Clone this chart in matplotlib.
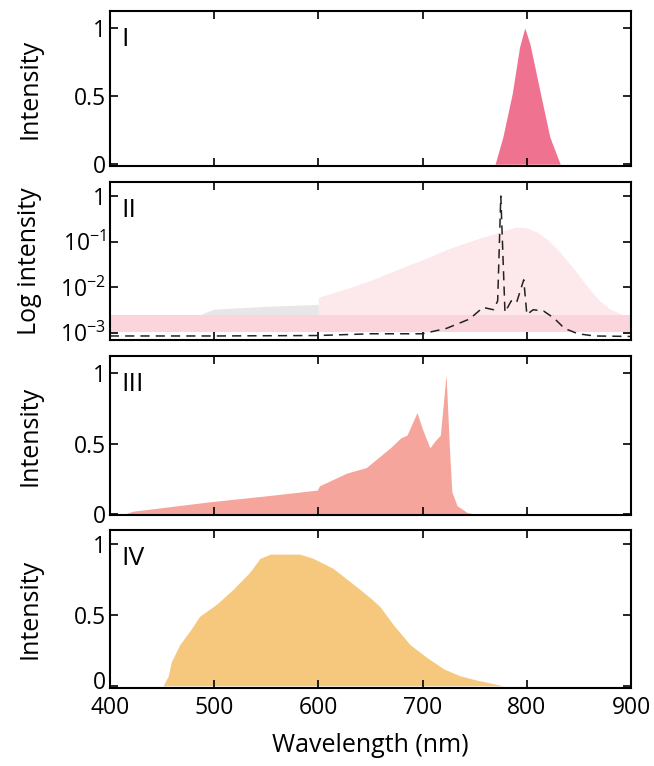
import matplotlib
matplotlib.use("Agg")
import matplotlib.pyplot as plt
import matplotlib.transforms as mtransforms
from matplotlib.ticker import FixedLocator, FixedFormatter
import numpy as np

plt.rcParams['font.family'] = ['Open Sans', 'DejaVu Sans']
plt.rcParams['mathtext.fontset'] = 'custom'
plt.rcParams['mathtext.rm'] = 'Open Sans'
plt.rcParams['mathtext.it'] = 'Open Sans'

# Panel I: narrow emission band near 800 nm
wl_1 = [769.5, 777, 786, 793, 798, 803, 813, 822, 832]
int_1 = [0.0, 0.2, 0.52, 0.86, 1.0, 0.88, 0.52, 0.2, 0.0]

# Panel II: log-scale spectra
wl_band = [400, 900]
band_low = [1.05e-3, 1.05e-3]
band_high = [2.5e-3, 2.5e-3]

wl_gray = [488, 500, 550, 600]
gray_high = [2.6e-3, 3.3e-3, 3.8e-3, 4.2e-3]

wl_hump = [600, 625, 650, 675, 700, 725, 750, 765, 780, 790, 800, 810, 820,
           830, 840, 850, 860, 870, 880, 890]
hump_high = [6.0e-3, 9.0e-3, 1.4e-2, 2.4e-2, 4.0e-2, 7.0e-2, 0.11, 0.14,
             0.18, 0.21, 0.2, 0.16, 0.11, 6.5e-2, 3.5e-2, 1.8e-2, 9.0e-3,
             5.0e-3, 3.3e-3, 2.6e-3]

wl_dash = [400, 500, 600, 650, 700, 723, 745, 758, 768, 772, 775, 779,
           785, 790, 797, 800, 806, 816, 826, 836, 849, 865, 900]
int_dash = [8.5e-4, 8.5e-4, 8.7e-4, 9.5e-4, 9.5e-4, 1.25e-3, 2.0e-3, 3.6e-3,
            3.2e-3, 5.0e-3, 1.0, 2.8e-3, 5.0e-3, 4.5e-3, 1.45e-2, 2.5e-3,
            3.2e-3, 3.0e-3, 2.1e-3, 1.25e-3, 9.5e-4, 8.5e-4, 8.3e-4]

# Panel III: broad red emission with two sharp peaks
wl_3 = [414, 422, 496, 551, 599, 601, 627, 646, 669, 679, 685, 694.6, 700,
        707, 712, 717, 722.5, 725.5, 728, 733, 743, 750]
int_3 = [0.0, 0.02, 0.087, 0.13, 0.17, 0.2, 0.29, 0.33, 0.47, 0.54, 0.56,
         0.72, 0.6, 0.47, 0.52, 0.56, 0.99, 0.5, 0.16, 0.06, 0.01, 0.0]

# Panel IV: broad yellow emission
wl_4 = [451, 456, 459, 467, 477, 486, 503, 518, 534, 544, 554, 582, 595,
        614, 640, 650, 659, 672, 688, 704, 720, 736, 752, 777]
int_4 = [0.0, 0.07, 0.17, 0.29, 0.39, 0.49, 0.58, 0.68, 0.8, 0.9, 0.93,
         0.93, 0.9, 0.83, 0.68, 0.62, 0.56, 0.43, 0.29, 0.2, 0.12, 0.07,
         0.04, 0.0]

x_ticks = [400, 500, 600, 700, 800, 900]
lin_ticks = [0, 0.5, 1]
lin_labels = ["0", "0.5", "1"]
log_ticks = [1e-3, 1e-2, 1e-1, 1]
log_labels = [r"$\mathregular{10^{-3}}$", r"$\mathregular{10^{-2}}$",
              r"$\mathregular{10^{-1}}$", "1"]
panel_tags = ["I", "II", "III", "IV"]

fig = plt.figure(figsize=(6.54, 7.66), dpi=100)
left, width = 0.168, 0.797
bottoms = [0.783, 0.556, 0.328, 0.102]
heights = [0.202, 0.206, 0.207, 0.206]
axes = [fig.add_axes([left, b, width, h]) for b, h in zip(bottoms, heights)]

TICK_FS = 16.5
LABEL_FS = 18

for i, ax in enumerate(axes):
    ax.set_xlim(400, 900)
    ax.xaxis.set_major_locator(FixedLocator(x_ticks))
    ax.tick_params(direction="in", length=6, width=1.2, top=True, right=True,
                   labelsize=TICK_FS, pad=3)
    ax.tick_params(axis="x", pad=6)
    ax.tick_params(which="minor", length=0)
    for sp in ax.spines.values():
        sp.set_linewidth(1.5)
    if i < 3:
        ax.tick_params(labelbottom=False)
    ax.text(0.022, 0.9, panel_tags[i], transform=ax.transAxes, fontsize=19,
            va="top", ha="left")

# I
ax = axes[0]
ax.fill_between(wl_1, 0, int_1, color="#ef7391", lw=0)
ax.set_ylim(-0.015, 1.12)
ax.yaxis.set_major_locator(FixedLocator(lin_ticks))
ax.yaxis.set_major_formatter(FixedFormatter(lin_labels))
ax.set_ylabel("Intensity", fontsize=LABEL_FS)

# II
ax = axes[1]
ax.set_yscale("log")
ax.set_ylim(6.9e-4, 2.0)
ax.fill_between(wl_band, band_low, band_high, color="#fad5dc", lw=0)
ax.fill_between(wl_gray, band_high[0], gray_high, color="#e8e6e6", lw=0)
ax.fill_between(wl_hump, band_high[0], hump_high, color="#fde8ec", lw=0)
ax.plot(wl_dash, int_dash, color="#222222", lw=1.1, dashes=(6, 4))
ax.yaxis.set_major_locator(FixedLocator(log_ticks))
ax.yaxis.set_major_formatter(FixedFormatter(log_labels))
ax.set_ylabel("Log intensity", fontsize=LABEL_FS)

# III
ax = axes[2]
ax.fill_between(wl_3, 0, int_3, color="#f5a59b", lw=0)
ax.set_ylim(-0.005, 1.12)
ax.yaxis.set_major_locator(FixedLocator(lin_ticks))
ax.yaxis.set_major_formatter(FixedFormatter(lin_labels))
ax.set_ylabel("Intensity", fontsize=LABEL_FS)

# IV
ax = axes[3]
ax.fill_between(wl_4, 0, int_4, color="#f6c87d", lw=0)
ax.set_ylim(-0.015, 1.1)
ax.yaxis.set_major_locator(FixedLocator(lin_ticks))
ax.yaxis.set_major_formatter(FixedFormatter(lin_labels))
ax.set_ylabel("Intensity", fontsize=LABEL_FS)
ax.set_xlabel("Wavelength (nm)", fontsize=LABEL_FS, labelpad=9)

for ax in axes:
    ax.yaxis.set_label_coords(-0.13, 0.5)

# lift the bottom "0" label of the last panel clear of the "400" label
fig.canvas.draw()
zero_lbl = axes[3].yaxis.get_ticklabels()[0]
zero_lbl.set_transform(zero_lbl.get_transform() +
                       mtransforms.ScaledTranslation(0, 4 / 72, fig.dpi_scale_trans))

fig.savefig("out.png", dpi=100)
